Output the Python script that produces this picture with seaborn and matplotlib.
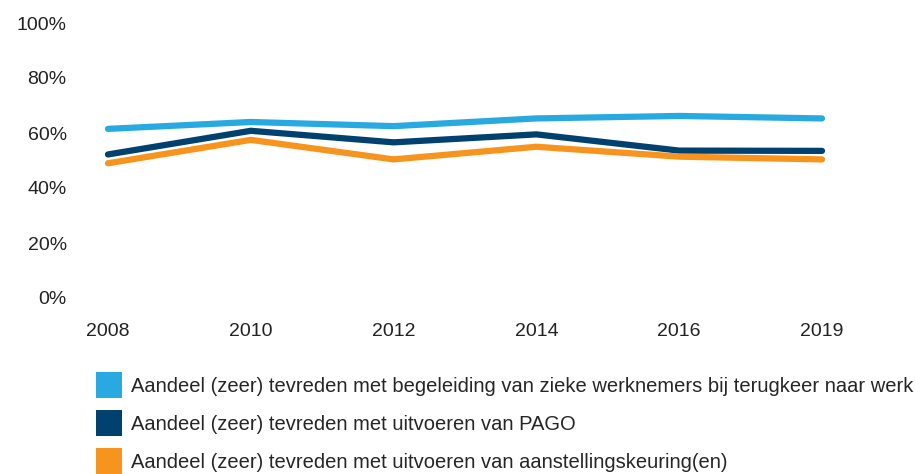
import pandas as pd
import seaborn as sns
import matplotlib.pyplot as plt
from matplotlib.patches import Patch

years = ['2008', '2010', '2012', '2014', '2016', '2019']
begeleiding = [61.5, 64.0, 62.5, 65.3, 66.2, 65.3]
pago = [52.2, 60.8, 56.6, 59.5, 53.6, 53.5]
aanstelling = [49.0, 57.5, 50.4, 55.0, 51.4, 50.4]

labels = [
    'Aandeel (zeer) tevreden met begeleiding van zieke werknemers bij terugkeer naar werk',
    'Aandeel (zeer) tevreden met uitvoeren van PAGO',
    'Aandeel (zeer) tevreden met uitvoeren van aanstellingskeuring(en)',
]
colors = ['#29a9e1', '#004170', '#f7941d']

df = pd.concat([
    pd.DataFrame({'year': years, 'value': v, 'serie': lab})
    for v, lab in zip([begeleiding, pago, aanstelling], labels)
])
df['x'] = df['year'].map({y: i for i, y in enumerate(years)})

sns.set_style('white')
plt.rcParams['font.family'] = ['Liberation Sans', 'DejaVu Sans']

fig = plt.figure(figsize=(9.15, 4.74), dpi=100)
ax = fig.add_axes([75 / 915, 176 / 474, 785 / 915, 275 / 474])

sns.lineplot(data=df, x='x', y='value', hue='serie', palette=dict(zip(labels, colors)),
             linewidth=4.5, legend=False, ax=ax, solid_capstyle='round', solid_joinstyle='miter')

ax.set_xlim(-0.231, 5.266)
ax.set_ylim(0, 100)
ax.set_xticks(range(len(years)))
ax.set_xticklabels(years)
ax.set_yticks(range(0, 101, 20))
ax.set_yticklabels([f'{t}%' for t in range(0, 101, 20)])
ax.tick_params(axis='x', length=0, pad=18, labelsize=14, labelcolor='#222222')
ax.tick_params(axis='y', length=0, pad=6, labelsize=14, labelcolor='#222222')
ax.set_xlabel('')
ax.set_ylabel('')
sns.despine(ax=ax, left=True, bottom=True)

handles = [Patch(facecolor=c, edgecolor='none', label=l) for c, l in zip(colors, labels)]
fig.legend(handles=handles, loc='upper left', bbox_to_anchor=(96 / 915, 1 - 372 / 474),
           frameon=False, handlelength=1.29, handleheight=1.64, handletextpad=0.45,
           labelspacing=0.57, borderaxespad=0, borderpad=0,
           prop={'family': ['Liberation Sans', 'DejaVu Sans'], 'size': 14.5})

fig.savefig('out.png', dpi=100)
